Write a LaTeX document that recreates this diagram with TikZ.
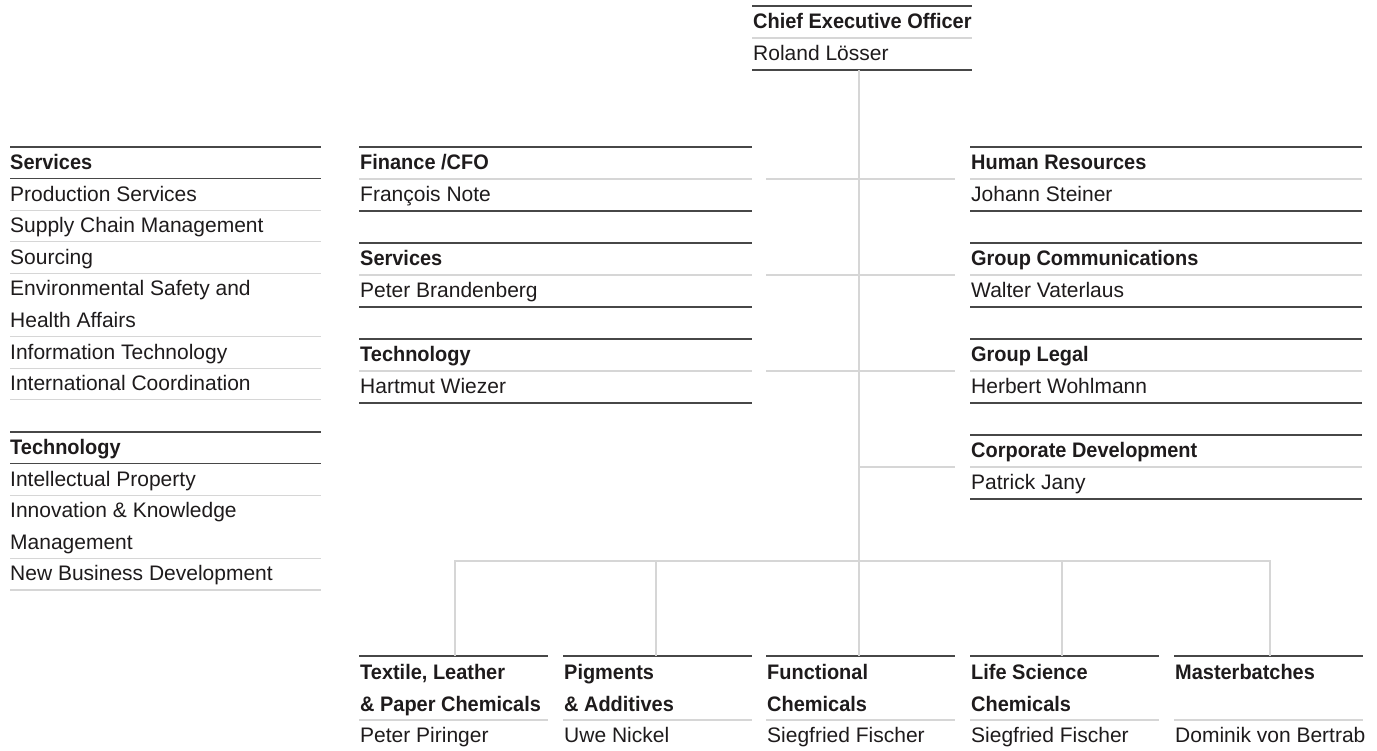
\documentclass[tikz,border=0pt]{standalone}
\usepackage{fontspec}
\setmainfont{Liberation Sans}
\newfontfamily\hdfont[FakeStretch=0.95]{Liberation Sans}
\definecolor{txt}{HTML}{1E1B1C}
\definecolor{dk}{HTML}{474747}
\definecolor{lt}{HTML}{D6D6D6}
\tikzset{
  hd/.style={anchor=base west, inner sep=0pt, text=txt, font=\hdfont\fontsize{21}{24}\selectfont\bfseries},
  tx/.style={anchor=base west, inner sep=0pt, text=txt, font=\fontsize{21}{24}\selectfont},
  dkline/.style={draw=dk, line width=1.4pt},
  ltline/.style={draw=lt, line width=1.2pt},
  conn/.style={draw=lt, line width=1.2pt}
}
% box: #1 name, #2 x, #3 y, #4 width, #5 header, #6 person
\newcommand\orgbox[6]{%
  \draw[dkline] (#2,#3) -- ++(#4,0);
  \node[hd] (#1H) at ({#2+1},{#3+22.5}) {#5};
  \draw[ltline] (#2,{#3+32}) -- ++(#4,0);
  \node[tx] (#1N) at ({#2+1},{#3+54.5}) {#6};
  \draw[dkline] (#2,{#3+64}) -- ++(#4,0);
}
% bottom box: #1 name, #2 x, #3 line1, #4 line2, #5 person
\newcommand\botbox[5]{%
  \draw[dkline] (#2,656) -- ++(189,0);
  \node[hd] (#1H1) at ({#2+1},679) {#3};
  \node[hd] (#1H2) at ({#2+1},711) {#4};
  \draw[ltline] (#2,720) -- ++(189,0);
  \node[tx] (#1N) at ({#2+1},742) {#5};
}
\begin{document}
\begin{tikzpicture}[x=1pt,y=-1pt]
\useasboundingbox (0,0) rectangle (1377,751);

% CEO
\orgbox{ceo}{752}{6}{220}{Chief Executive Officer}{Roland Lösser}

% middle column
\orgbox{fin}{359}{147}{393}{Finance /CFO}{François Note}
\orgbox{srv}{359}{243}{393}{Services}{Peter Brandenberg}
\orgbox{tec}{359}{339}{393}{Technology}{Hartmut Wiezer}

% right column
\orgbox{hr}{970}{147}{392}{Human Resources}{Johann Steiner}
\orgbox{gc}{970}{243}{392}{Group Communications}{Walter Vaterlaus}
\orgbox{gl}{970}{339}{392}{Group Legal}{Herbert Wohlmann}
\orgbox{cd}{970}{435}{392}{Corporate Development}{Patrick Jany}

% left column: Services
\draw[dkline] (10,147) -- (321,147);
\node[hd] (lsH) at (10,169.5) {Services};
\draw[dkline] (10,178.6) -- (321,178.6);
\node[tx] (ls1) at (10,201.1) {Production Services};
\draw[ltline] (10,210.2) -- (321,210.2);
\node[tx] (ls2) at (10,232.7) {Supply Chain Management};
\draw[ltline] (10,241.8) -- (321,241.8);
\node[tx] (ls3) at (10,264.3) {Sourcing};
\draw[ltline] (10,273.4) -- (321,273.4);
\node[tx] (ls4a) at (10,295.9) {Environmental Safety and};
\node[tx] (ls4b) at (10,327.5) {Health Affairs};
\draw[ltline] (10,336.6) -- (321,336.6);
\node[tx] (ls5) at (10,359.1) {Information Technology};
\draw[ltline] (10,368.2) -- (321,368.2);
\node[tx] (ls6) at (10,390.7) {International Coordination};
\draw[ltline] (10,399.8) -- (321,399.8);

% left column: Technology
\draw[dkline] (10,432) -- (321,432);
\node[hd] (ltH) at (10,454.5) {Technology};
\draw[dkline] (10,463.6) -- (321,463.6);
\node[tx] (lt1) at (10,486.1) {Intellectual Property};
\draw[ltline] (10,495.2) -- (321,495.2);
\node[tx] (lt2a) at (10,517.7) {Innovation \& Knowledge};
\node[tx] (lt2b) at (10,549.3) {Management};
\draw[ltline] (10,558.4) -- (321,558.4);
\node[tx] (lt3) at (10,580.9) {New Business Development};
\draw[ltline] (10,590) -- (321,590);

% bottom boxes
\botbox{b1}{359}{Textile, Leather}{\& Paper Chemicals}{Peter Piringer}
\botbox{b2}{563}{Pigments}{\& Additives}{Uwe Nickel}
\botbox{b3}{766}{Functional}{Chemicals}{Siegfried Fischer}
\botbox{b4}{970}{Life Science}{Chemicals}{Siegfried Fischer}
\botbox{b5}{1174}{Masterbatches}{}{Dominik von Bertrab}

% connector coordinates
\coordinate (ceoS) at (859,70);
\coordinate (finC) at (766,179);
\coordinate (hrC) at (955,179);
\coordinate (srvC) at (766,275);
\coordinate (gcC) at (955,275);
\coordinate (tecC) at (766,371);
\coordinate (glC) at (955,371);
\coordinate (cdJ) at (859,467);
\coordinate (cdC) at (955,467);
\coordinate (b1T) at (455,656);
\coordinate (b2T) at (656,656);
\coordinate (b3T) at (859,656);
\coordinate (b4T) at (1062,656);
\coordinate (b5T) at (1270,656);
\coordinate (b1B) at (455,561);
\coordinate (b2B) at (656,561);
\coordinate (b4B) at (1062,561);
\coordinate (b5B) at (1270,561);

% connectors
\draw[conn] (ceoS) -- (b3T);
\draw[conn] (finC) -- (hrC);
\draw[conn] (srvC) -- (gcC);
\draw[conn] (tecC) -- (glC);
\draw[conn] (cdJ) -- (cdC);
\draw[conn] (b1T) -- (b1B) -- (b5B) -- (b5T);
\draw[conn] (b2B) -- (b2T);
\draw[conn] (b4B) -- (b4T);
\end{tikzpicture}
\end{document}
